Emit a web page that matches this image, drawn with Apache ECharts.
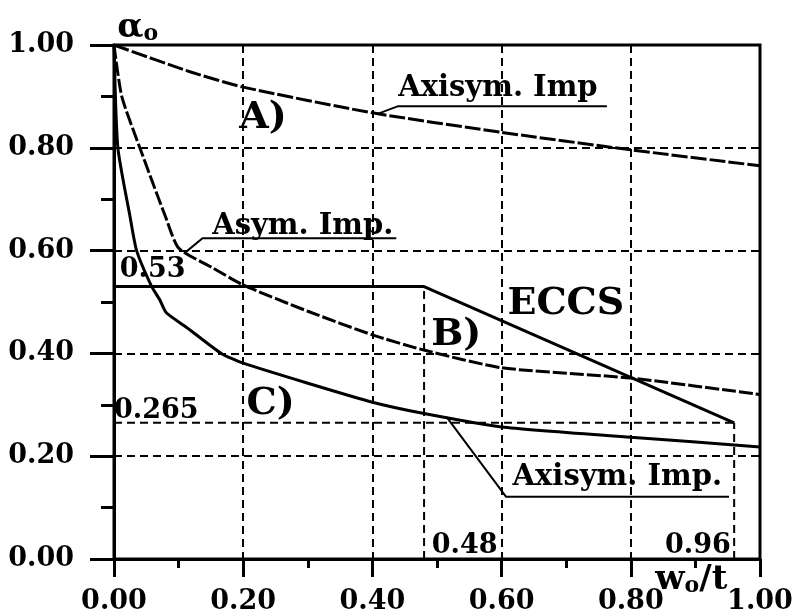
<!DOCTYPE html>
<html>
<head>
<meta charset="utf-8">
<script src="https://cdn.jsdelivr.net/npm/echarts@6/dist/echarts.min.js"></script>
<style>
  html, body { margin: 0; padding: 0; background: #fff; }
  #chart { width: 804px; height: 616px; }
</style>
</head>
<body>
<div id="chart"></div>
<script>
// Reduction factor alpha0 versus imperfection amplitude w0/t
const FONT = '"DejaVu Serif", "Liberation Serif", serif';

// A) axisymmetric imperfection
const curveA_x = [0, 0.12, 0.2, 0.4, 0.6, 0.8, 1.0];
const curveA_y = [1.00, 0.947, 0.918, 0.868, 0.830, 0.796, 0.765];

// B) asymmetric imperfection
const curveB_x = [0, 0.012, 0.04, 0.08, 0.10, 0.152, 0.2, 0.3, 0.4, 0.478, 0.6, 0.8, 1.0];
const curveB_y = [1.00, 0.90, 0.80, 0.665, 0.605, 0.567, 0.533, 0.482, 0.436, 0.407, 0.372, 0.352, 0.320];

// C) axisymmetric imperfection (lower curve)
const curveC_x = [0, 0.006, 0.025, 0.035, 0.058, 0.071, 0.081, 0.112, 0.166, 0.2, 0.3, 0.4, 0.48, 0.6, 0.8, 1.0];
const curveC_y = [1.00, 0.80, 0.665, 0.60, 0.531, 0.504, 0.479, 0.451, 0.400, 0.381, 0.342, 0.305, 0.283, 0.257, 0.237, 0.218];

// ECCS design line
const eccsPlateau = 0.53;
const eccsEnd = 0.265;
const eccsKneeX = 0.48;
const eccsEndX = 0.96;
const eccs_x = [0, eccsKneeX, eccsEndX];
const eccs_y = [eccsPlateau, eccsPlateau, eccsEnd];

const zip = (xs, ys) => xs.map((x, i) => [x, ys[i]]);

const lineBase = { type: 'line', symbol: 'none', silent: true, animation: false, z: 3 };

// leader lines from curves to their captions
const leaders = [
  [[0.408, 0.866], [0.44, 0.881], [0.763, 0.881]],
  [[0.111, 0.597], [0.137, 0.624], [0.437, 0.624]],
  [[0.515, 0.276], [0.607, 0.121], [0.952, 0.121]]
];

const big = { fontFamily: FONT, fontWeight: 'bold', fontSize: 38, color: '#000' };
const mid = { fontFamily: FONT, fontWeight: 'bold', fontSize: 29, color: '#000' };
const num = { fontFamily: FONT, fontWeight: 'bold', fontSize: 27, color: '#000' };
const axisName = {
  color: '#000',
  rich: {
    w: { fontFamily: FONT, fontWeight: 'bold', fontSize: 34, color: '#000' },
    s: { fontFamily: FONT, fontWeight: 'bold', fontSize: 22, color: '#000', padding: [12, 0, 0, 0] }
  }
};

const notes = [
  { text: 'A)', at: [0.194, 0.858], style: big },
  { text: 'B)', at: [0.491, 0.436], style: big },
  { text: 'C)', at: [0.205, 0.302], style: big },
  { text: 'ECCS', at: [0.609, 0.496], style: big },
  { text: 'Axisym. Imp', at: [0.44, 0.916], style: mid },
  { text: 'Asym. Imp.', at: [0.152, 0.646], style: mid },
  { text: 'Axisym. Imp.', at: [0.617, 0.158], style: mid },
  { text: '0.53', at: [0.009, 0.563], style: num },
  { text: '0.265', at: [0, 0.288], style: num },
  { text: '0.48', at: [0.492, 0.026], style: num },
  { text: '0.96', at: [0.853, 0.026], style: num },
  { text: '{w|w}{s|o}{w|/t}', at: [0.838, -0.042], style: axisName },
  { text: '{w|α}{s|o}', at: [0.005, 1.032], style: axisName }
];

const chart = echarts.init(document.getElementById('chart'), null, { renderer: 'canvas' });

const axisCommon = {
  type: 'value', min: 0, max: 1, interval: 0.2,
  axisLine: { show: true, lineStyle: { color: '#000', width: 3 } },
  splitLine: { show: true, lineStyle: { color: '#000', width: 2, type: [8, 5] } },
  axisLabel: {
    fontFamily: FONT, fontWeight: 'bold', fontSize: 27, color: '#000',
    formatter: v => v.toFixed(2)
  }
};

chart.setOption({
  backgroundColor: '#fff',
  animation: false,
  grid: {
    left: 114, right: 44, top: 45, bottom: 57,
    outerBoundsMode: 'none',
    containLabel: false,
    show: true, borderColor: '#000', borderWidth: 3, backgroundColor: 'transparent'
  },
  xAxis: Object.assign({}, axisCommon, {
    axisTick: { show: true, length: 18, lineStyle: { color: '#000', width: 3 } },
    minorTick: { show: true, splitNumber: 2, length: 9, lineStyle: { color: '#000', width: 3 } },
    axisLabel: Object.assign({}, axisCommon.axisLabel, { margin: 29, hideOverlap: false })
  }),
  yAxis: Object.assign({}, axisCommon, {
    axisTick: { show: true, length: 24, lineStyle: { color: '#000', width: 3 } },
    minorTick: { show: true, splitNumber: 2, length: 13, lineStyle: { color: '#000', width: 3 } },
    axisLabel: Object.assign({}, axisCommon.axisLabel, { margin: 40 })
  }),
  series: [
    // reference lines of the ECCS curve
    Object.assign({}, lineBase, { data: [[0, eccsEnd], [eccsEndX, eccsEnd]],
      lineStyle: { color: '#000', width: 2, type: [8, 5] }, z: 2 }),
    Object.assign({}, lineBase, { data: [[eccsKneeX, 0], [eccsKneeX, eccsPlateau]],
      lineStyle: { color: '#000', width: 2, type: [8, 5] }, z: 2 }),
    Object.assign({}, lineBase, { data: [[eccsEndX, 0], [eccsEndX, eccsEnd]],
      lineStyle: { color: '#000', width: 2, type: [8, 5] }, z: 2 }),
    Object.assign({}, lineBase, { name: 'ECCS', data: zip(eccs_x, eccs_y),
      lineStyle: { color: '#000', width: 3 } }),
    Object.assign({}, lineBase, { name: 'A', data: zip(curveA_x, curveA_y), smooth: 0.2,
      lineStyle: { color: '#000', width: 3, type: [16, 3] } }),
    Object.assign({}, lineBase, { name: 'B', data: zip(curveB_x, curveB_y), smooth: 0.2,
      lineStyle: { color: '#000', width: 3, type: [14, 3] } }),
    Object.assign({}, lineBase, { name: 'C', data: zip(curveC_x, curveC_y), smooth: 0.2,
      lineStyle: { color: '#000', width: 3 } }),
    ...leaders.map(pts => Object.assign({}, lineBase, { data: pts,
      lineStyle: { color: '#000', width: 2 } })),
    {
      type: 'scatter', silent: true, animation: false, clip: false, z: 5,
      symbolSize: 0,
      itemStyle: { opacity: 1 },
      data: notes.map(n => ({
        value: n.at,
        label: Object.assign({ show: true, position: [0, 0], align: 'left', verticalAlign: 'middle',
          formatter: n.text, textBorderWidth: 0 }, n.style)
      }))
    }
  ]
});
</script>
</body>
</html>
